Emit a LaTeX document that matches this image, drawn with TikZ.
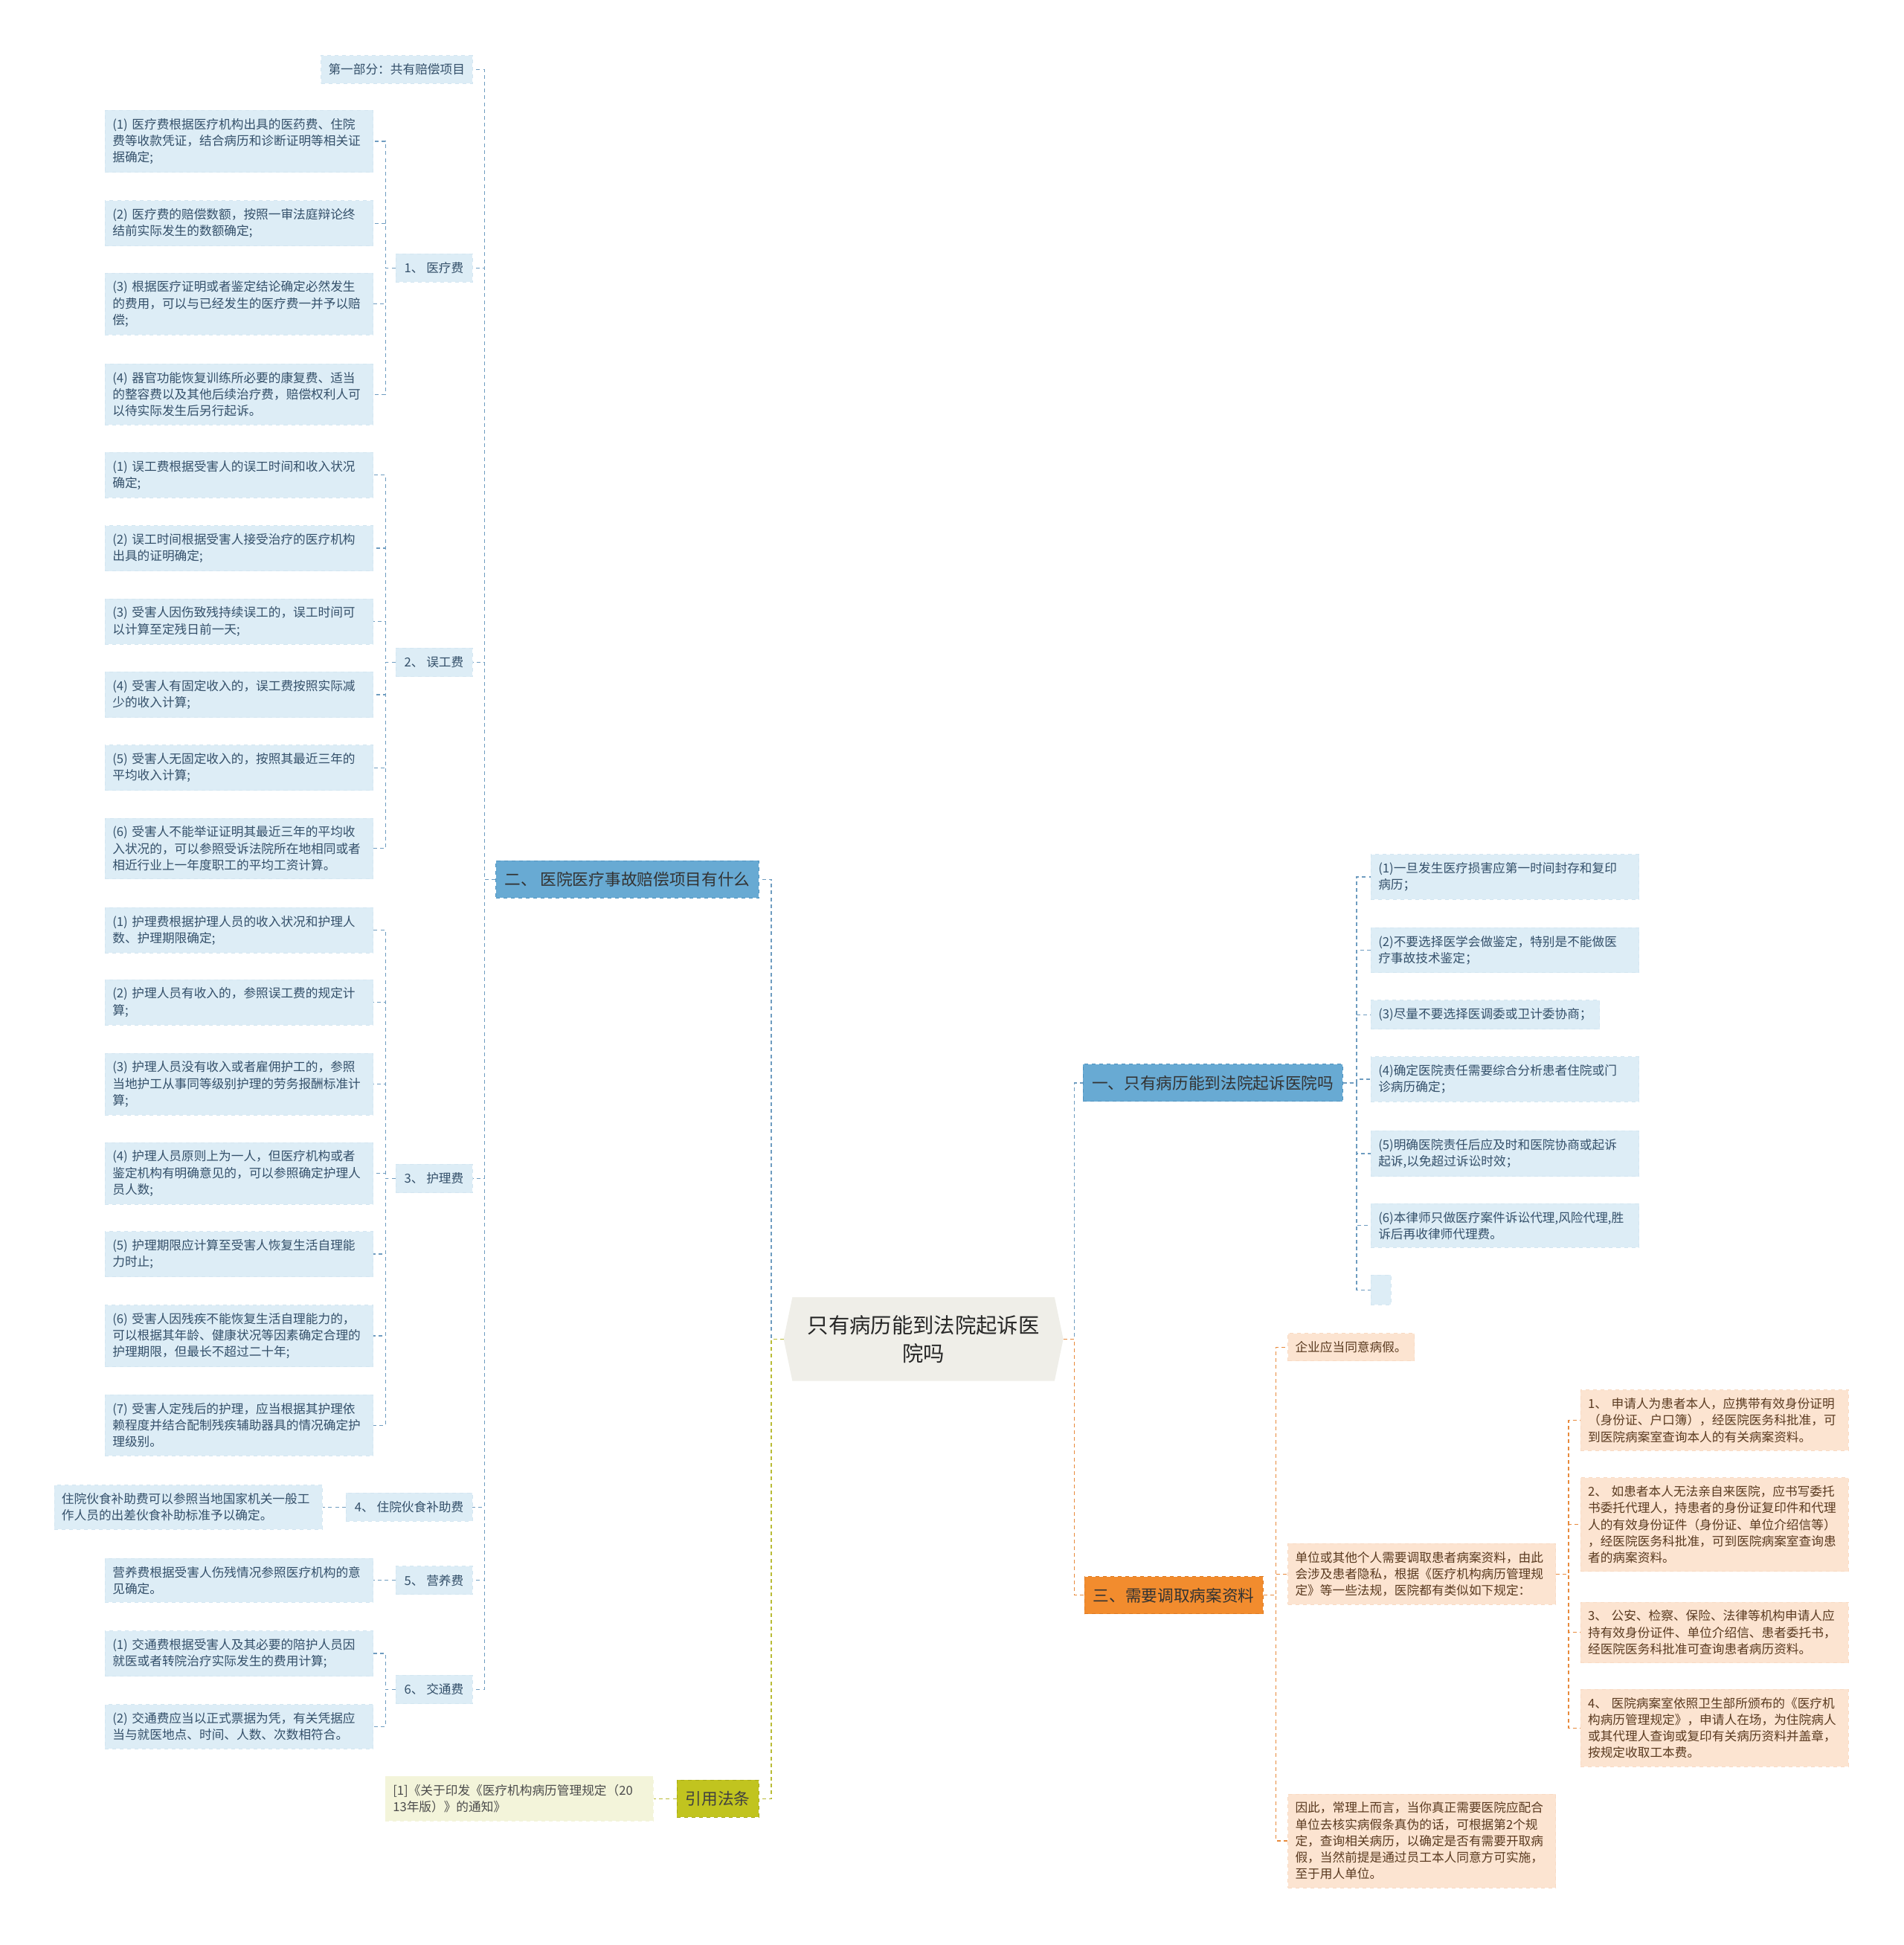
\documentclass[tikz,border=0pt]{standalone}
\usepackage{fontspec}
\setmainfont{Noto Sans CJK SC}
\usetikzlibrary{calc,positioning,backgrounds}

\definecolor{leafblue}{HTML}{DDEDF6}
\definecolor{leafblueline}{HTML}{D3E6F1}
\definecolor{inkblue}{HTML}{34506A}
\definecolor{mainblue}{HTML}{68AAD3}
\definecolor{mainblueline}{HTML}{4F93C0}
\definecolor{linkblue}{HTML}{6E9CC0}
\definecolor{leaforange}{HTML}{FCE4D1}
\definecolor{leaforangeline}{HTML}{F9DAC3}
\definecolor{inkorange}{HTML}{5A3A20}
\definecolor{mainorange}{HTML}{F28C2E}
\definecolor{mainorangeline}{HTML}{DD7A22}
\definecolor{linkorange}{HTML}{E88A3C}
\definecolor{leafolive}{HTML}{F3F4DA}
\definecolor{mainolive}{HTML}{C1C41F}
\definecolor{mainoliveline}{HTML}{A6A914}
\definecolor{linkolive}{HTML}{B9BC36}
\definecolor{rootbg}{HTML}{EFEEE8}

\begin{document}
\begin{tikzpicture}[x=1pt,y=-1pt,
  link/.style={dash pattern=on 3pt off 2.5pt,line width=0.8pt},
  leaf/.style={fill=leafblue,draw=leafblueline,dashed,line width=0.5pt,text=inkblue,
    font=\fontsize{10}{13.3}\selectfont,align=left,inner xsep=6pt,inner ysep=6.5pt},
  wide/.style={text width=204pt},
  sub/.style={leaf,inner xsep=7pt,minimum height=23pt},
  orleaf/.style={leaf,fill=leaforange,draw=leaforangeline,text=inkorange},
  olleaf/.style={leaf,fill=leafolive,draw=leafolive,text=black!70},
  main/.style={font=\fontsize{13}{16}\selectfont,inner xsep=7pt,minimum height=30pt,
    draw,dashed,line width=0.6pt},
  rootnode/.style={font=\fontsize{17}{23}\selectfont,align=center,text=black!85,
    minimum width=225pt,minimum height=67pt}]
  \useasboundingbox (0,0) rectangle (1535,1568);

  % --- root ---
  \node[rootnode] (root) at (744.5,1079.5) {只有病历能到法院起诉医\\院吗};

  % --- 二、赔偿项目 ---
  \node[main,fill=mainblue,draw=mainblueline,text=black!80,anchor=east] (er) at (612,709) {二、 医院医疗事故赔偿项目有什么};
  \node[leaf,anchor=east] (part1) at (381,56) {第一部分：共有赔偿项目};

  \node[sub,anchor=east] (yl) at (381,216) {1、 医疗费};
  \node[leaf,wide,anchor=east] (yl1) at (301,114) {(1)~医疗费根据医疗机构出具的医药费、住院\\费等收款凭证，结合病历和诊断证明等相关证\\据确定;};
  \node[leaf,wide,anchor=east] (yl2) at (301,180) {(2)~医疗费的赔偿数额，按照一审法庭辩论终\\结前实际发生的数额确定;};
  \node[leaf,wide,anchor=east] (yl3) at (301,245) {(3)~根据医疗证明或者鉴定结论确定必然发生\\的费用，可以与已经发生的医疗费一并予以赔\\偿;};
  \node[leaf,wide,anchor=east] (yl4) at (301,318) {(4)~器官功能恢复训练所必要的康复费、适当\\的整容费以及其他后续治疗费，赔偿权利人可\\以待实际发生后另行起诉。};

  \node[sub,anchor=east] (wg) at (381,534) {2、 误工费};
  \node[leaf,wide,anchor=east] (wg1) at (301,383) {(1)~误工费根据受害人的误工时间和收入状况\\确定;};
  \node[leaf,wide,anchor=east] (wg2) at (301,442) {(2)~误工时间根据受害人接受治疗的医疗机构\\出具的证明确定;};
  \node[leaf,wide,anchor=east] (wg3) at (301,501) {(3)~受害人因伤致残持续误工的，误工时间可\\以计算至定残日前一天;};
  \node[leaf,wide,anchor=east] (wg4) at (301,560) {(4)~受害人有固定收入的，误工费按照实际减\\少的收入计算;};
  \node[leaf,wide,anchor=east] (wg5) at (301,619) {(5)~受害人无固定收入的，按照其最近三年的\\平均收入计算;};
  \node[leaf,wide,anchor=east] (wg6) at (301,684) {(6)~受害人不能举证证明其最近三年的平均收\\入状况的，可以参照受诉法院所在地相同或者\\相近行业上一年度职工的平均工资计算。};

  \node[sub,anchor=east] (hl) at (381,950) {3、 护理费};
  \node[leaf,wide,anchor=east] (hl1) at (301,750) {(1)~护理费根据护理人员的收入状况和护理人\\数、护理期限确定;};
  \node[leaf,wide,anchor=east] (hl2) at (301,808) {(2)~护理人员有收入的，参照误工费的规定计\\算;};
  \node[leaf,wide,anchor=east] (hl3) at (301,874) {(3)~护理人员没有收入或者雇佣护工的，参照\\当地护工从事同等级别护理的劳务报酬标准计\\算;};
  \node[leaf,wide,anchor=east] (hl4) at (301,946) {(4)~护理人员原则上为一人，但医疗机构或者\\鉴定机构有明确意见的，可以参照确定护理人\\员人数;};
  \node[leaf,wide,anchor=east] (hl5) at (301,1011) {(5)~护理期限应计算至受害人恢复生活自理能\\力时止;};
  \node[leaf,wide,anchor=east] (hl6) at (301,1077) {(6)~受害人因残疾不能恢复生活自理能力的，\\可以根据其年龄、健康状况等因素确定合理的\\护理期限，但最长不超过二十年;};
  \node[leaf,wide,anchor=east] (hl7) at (301,1149) {(7)~受害人定残后的护理，应当根据其护理依\\赖程度并结合配制残疾辅助器具的情况确定护\\理级别。};

  \node[sub,anchor=east] (hs) at (381,1215) {4、 住院伙食补助费};
  \node[leaf,wide,anchor=east] (hs1) at (260,1215) {住院伙食补助费可以参照当地国家机关一般工\\作人员的出差伙食补助标准予以确定。};

  \node[sub,anchor=east] (yy) at (381,1274) {5、 营养费};
  \node[leaf,wide,anchor=east] (yy1) at (301,1274) {营养费根据受害人伤残情况参照医疗机构的意\\见确定。};

  \node[sub,anchor=east] (jt) at (381,1362) {6、 交通费};
  \node[leaf,wide,anchor=east] (jt1) at (301,1333) {(1)~交通费根据受害人及其必要的陪护人员因\\就医或者转院治疗实际发生的费用计算;};
  \node[leaf,wide,anchor=east] (jt2) at (301,1392) {(2)~交通费应当以正式票据为凭，有关凭据应\\当与就医地点、时间、人数、次数相符合。};

  % --- 引用法条 ---
  \node[main,fill=mainolive,draw=mainoliveline,text=black!75,anchor=east] (yin) at (612,1450) {引用法条};
  \node[olleaf,wide,anchor=east] (yin1) at (527,1450) {[1]《关于印发《医疗机构病历管理规定（20\\13年版）》的通知》};

  % --- 一、病历 ---
  \node[main,fill=mainblue,draw=mainblueline,text=black!80,anchor=west] (yi) at (873,873) {一、只有病历能到法院起诉医院吗};
  \node[leaf,wide,anchor=west] (yi1) at (1105,707) {(1)一旦发生医疗损害应第一时间封存和复印\\病历；};
  \node[leaf,wide,anchor=west] (yi2) at (1105,766) {(2)不要选择医学会做鉴定，特别是不能做医\\疗事故技术鉴定；};
  \node[leaf,anchor=west] (yi3) at (1105,818) {(3)尽量不要选择医调委或卫计委协商；};
  \node[leaf,wide,anchor=west] (yi4) at (1105,870) {(4)确定医院责任需要综合分析患者住院或门\\诊病历确定；};
  \node[leaf,wide,anchor=west] (yi5) at (1105,930) {(5)明确医院责任后应及时和医院协商或起诉\\起诉,以免超过诉讼时效；};
  \node[leaf,wide,anchor=west] (yi6) at (1105,988) {(6)本律师只做医疗案件诉讼代理,风险代理,胜\\诉后再收律师代理费。};
  \node[leaf,anchor=west,minimum width=16pt,minimum height=24pt,inner sep=0pt] (yi7) at (1105,1040) {};

  % --- 三、病案资料 ---
  \node[main,fill=mainorange,draw=mainorangeline,text=black!80,anchor=west] (san) at (874,1286) {三、需要调取病案资料};
  \node[orleaf,anchor=west] (san1) at (1038,1086) {企业应当同意病假。};
  \node[orleaf,wide,anchor=west] (san2) at (1038,1269) {单位或其他个人需要调取患者病案资料，由此\\会涉及患者隐私，根据《医疗机构病历管理规\\定》等一些法规，医院都有类似如下规定：};
  \node[orleaf,wide,anchor=west] (san3) at (1038,1484) {因此，常理上而言，当你真正需要医院应配合\\单位去核实病假条真伪的话，可根据第2个规\\定，查询相关病历，以确定是否有需要开取病\\假，当然前提是通过员工本人同意方可实施，\\至于用人单位。};
  \node[orleaf,wide,anchor=west] (san2a) at (1274,1145) {1、~申请人为患者本人，应携带有效身份证明\\（身份证、户口簿），经医院医务科批准，可\\到医院病案室查询本人的有关病案资料。};
  \node[orleaf,wide,anchor=west] (san2b) at (1274,1229) {2、~如患者本人无法亲自来医院，应书写委托\\书委托代理人，持患者的身份证复印件和代理\\人的有效身份证件（身份证、单位介绍信等）\\，经医院医务科批准，可到医院病案室查询患\\者的病案资料。};
  \node[orleaf,wide,anchor=west] (san2c) at (1274,1316) {3、~公安、检察、保险、法律等机构申请人应\\持有效身份证件、单位介绍信、患者委托书，\\经医院医务科批准可查询患者病历资料。};
  \node[orleaf,wide,anchor=west] (san2d) at (1274,1393) {4、~医院病案室依照卫生部所颁布的《医疗机\\构病历管理规定》，申请人在场，为住院病人\\或其代理人查询或复印有关病历资料并盖章，\\按规定收取工本费。};

  % --- connectors ---
  \begin{scope}[on background layer]
    \fill[rootbg] ([xshift=7pt]root.north west) -- ([xshift=-7pt]root.north east)
      -- (root.east) -- ([xshift=-7pt]root.south east)
      -- ([xshift=7pt]root.south west) -- (root.west) -- cycle;
    \draw[link,linkblue] (root.west) -- ++(-10,0) |- (er.east);
    \draw[link,linkolive] (root.west) -- ++(-10,0) |- (yin.east);
    \draw[link,linkblue] (root.east) -- ++(9,0) |- (yi.west);
    \draw[link,linkorange] (root.east) -- ++(9,0) |- (san.west);
    \foreach \c in {part1,yl,wg,hl,hs,yy,jt}
      \draw[link,linkblue] (er.west) -- ++(-9,0) |- (\c.east);
    \foreach \c in {yl1,yl2,yl3,yl4}
      \draw[link,linkblue] (yl.west) -- ++(-8,0) |- (\c.east);
    \foreach \c in {wg1,wg2,wg3,wg4,wg5,wg6}
      \draw[link,linkblue] (wg.west) -- ++(-8,0) |- (\c.east);
    \foreach \c in {hl1,hl2,hl3,hl4,hl5,hl6,hl7}
      \draw[link,linkblue] (hl.west) -- ++(-8,0) |- (\c.east);
    \foreach \c in {jt1,jt2}
      \draw[link,linkblue] (jt.west) -- ++(-8,0) |- (\c.east);
    \draw[link,linkblue] (hs.west) -- (hs1.east);
    \draw[link,linkblue] (yy.west) -- (yy1.east);
    \draw[link,linkolive] (yin.west) -- (yin1.east);
    \foreach \c in {yi1,yi2,yi3,yi4,yi5,yi6,yi7}
      \draw[link,linkblue] (yi.east) -- ++(11,0) |- (\c.west);
    \foreach \c in {san1,san2,san3}
      \draw[link,linkorange] (san.east) -- ++(10,0) |- (\c.west);
    \foreach \c in {san2a,san2b,san2c,san2d}
      \draw[link,linkorange] (san2.east) -- ++(10,0) |- (\c.west);
  \end{scope}
\end{tikzpicture}
\end{document}
